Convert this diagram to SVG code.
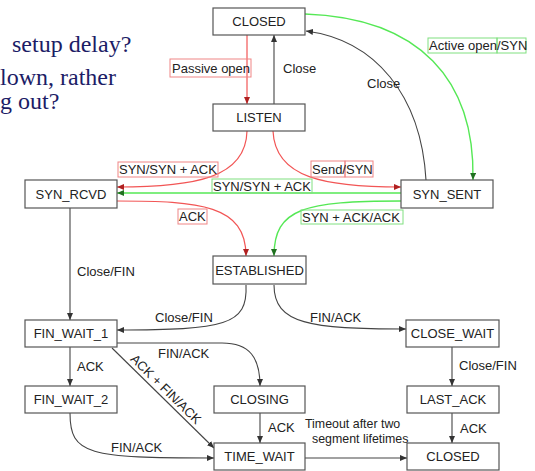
<svg xmlns="http://www.w3.org/2000/svg" width="535" height="471" viewBox="0 0 535 471">
<style>
.n rect{fill:#fff;stroke:#555;stroke-width:1.2}
.n text{font-family:"Liberation Sans",Arial,sans-serif;font-size:13px;fill:#222;text-anchor:middle}
.lbl{font-family:"Liberation Sans",Arial,sans-serif;font-size:13px;fill:#222}
.bg{font-family:"Liberation Serif","Times New Roman",serif;font-size:24px;fill:#1c1c66}
.k{fill:none;stroke:#444;stroke-width:1.1}
.r{fill:none;stroke:#f25555;stroke-width:1.2}
.g{fill:none;stroke:#55e855;stroke-width:1.4}
.rb{fill:none;stroke:#f08585;stroke-width:1}
.gb{fill:none;stroke:#80e080;stroke-width:1}
</style>
<defs>
<marker id="ak" markerUnits="userSpaceOnUse" markerWidth="7" markerHeight="6" refX="7" refY="3" orient="auto"><path d="M0,0 L7,3 L0,6 z" fill="#333"/></marker>
<marker id="ar" markerUnits="userSpaceOnUse" markerWidth="7" markerHeight="6" refX="7" refY="3" orient="auto"><path d="M0,0 L7,3 L0,6 z" fill="#b02020"/></marker>
<marker id="ag" markerUnits="userSpaceOnUse" markerWidth="7" markerHeight="6" refX="7" refY="3" orient="auto"><path d="M0,0 L7,3 L0,6 z" fill="#207020"/></marker>
</defs>
<rect width="535" height="471" fill="#fff"/>
<g id="background-text">
<text class="bg" x="12" y="52">setup delay?</text>
<text class="bg" x="0" y="85">lown, rather</text>
<text class="bg" x="0" y="109">g out?</text>
</g>
<g id="connectors">
<path class="r" d="M247 35 L247 104" marker-end="url(#ar)"/>
<rect class="rb" x="170" y="59" width="81" height="18"/>
<text class="lbl" x="172" y="72.5">Passive open</text>
<path class="k" d="M274 104 L274 35" marker-end="url(#ak)"/>
<text class="lbl" x="283" y="72.5">Close</text>
<path class="k" d="M426 180 C421 95 375 40 306 31" marker-end="url(#ak)"/>
<text class="lbl" x="367" y="87.5">Close</text>
<path class="g" d="M305 14 C420 18 475 80 473 180" marker-end="url(#ag)"/>
<rect class="gb" x="428" y="38" width="69" height="15"/>
<rect class="gb" x="497" y="38" width="29" height="15"/>
<text class="lbl" x="429" y="50">Active open/SYN</text>
<path class="r" d="M247 131 C246 178 195 187 117 187" marker-end="url(#ar)"/>
<rect class="rb" x="118" y="162" width="100" height="15"/>
<text class="lbl" x="119" y="174">SYN/SYN + ACK</text>
<path class="r" d="M273 131 C275 178 325 187 401 187" marker-end="url(#ar)"/>
<rect class="rb" x="311" y="161" width="34" height="16"/>
<rect class="rb" x="345" y="161" width="28" height="16"/>
<text class="lbl" x="312" y="173.5">Send/SYN</text>
<path class="g" d="M401 193 L117 193" marker-end="url(#ag)"/>
<rect class="gb" x="212" y="179" width="100" height="14"/>
<text class="lbl" x="213" y="190.5">SYN/SYN + ACK</text>
<path class="r" d="M117 201 C200 201 246 205 246 256" marker-end="url(#ar)"/>
<rect class="rb" x="178" y="209" width="29" height="15"/>
<text class="lbl" x="179" y="221">ACK</text>
<path class="g" d="M401 201 C305 201 274 208 274 256" marker-end="url(#ag)"/>
<rect class="gb" x="301" y="210" width="102" height="14"/>
<text class="lbl" x="302" y="221.5">SYN + ACK/ACK</text>
<path class="k" d="M70 208 L70 320" marker-end="url(#ak)"/>
<text class="lbl" x="77" y="275.5">Close/FIN</text>
<path class="k" d="M246 285 C248 325 225 330 117 330" marker-end="url(#ak)"/>
<text class="lbl" x="155" y="321.5">Close/FIN</text>
<path class="k" d="M274 285 C274 324 310 329 406 329" marker-end="url(#ak)"/>
<text class="lbl" x="310" y="321.5">FIN/ACK</text>
<path class="k" d="M117 343 L222 343 C250 343 260 358 260 386" marker-end="url(#ak)"/>
<text class="lbl" x="158" y="357.5">FIN/ACK</text>
<path class="k" d="M112 348 L214 448" marker-end="url(#ak)"/>
<text class="lbl" transform="translate(166 389) rotate(44.5)" x="0" y="4.6" text-anchor="middle">ACK + FIN/ACK</text>
<path class="k" d="M70 347 L70 386" marker-end="url(#ak)"/>
<text class="lbl" x="77" y="370.5">ACK</text>
<path class="k" d="M70 413 C70 455 88 458 214 458" marker-end="url(#ak)"/>
<text class="lbl" x="111" y="451.5">FIN/ACK</text>
<path class="k" d="M260 413 L260 443" marker-end="url(#ak)"/>
<text class="lbl" x="268" y="431.5">ACK</text>
<path class="k" d="M305 458 L407 458" marker-end="url(#ak)"/>
<text class="lbl" x="305" y="427.5" style="font-size:12.4px">Timeout after two</text>
<text class="lbl" x="312" y="442.5" style="font-size:12.4px">segment lifetimes</text>
<path class="k" d="M452 347 L452 386" marker-end="url(#ak)"/>
<text class="lbl" x="459" y="369.5">Close/FIN</text>
<path class="k" d="M452 413 L452 443" marker-end="url(#ak)"/>
<text class="lbl" x="460" y="432.5">ACK</text>
</g>
<g id="closed-top" class="n"><rect x="213" y="8" width="92" height="27"/><text x="259" y="26">CLOSED</text></g>
<g id="listen" class="n"><rect x="213" y="104" width="92" height="27"/><text x="259" y="122">LISTEN</text></g>
<g id="syn-rcvd" class="n"><rect x="25" y="180" width="92" height="28"/><text x="71" y="198.6">SYN_RCVD</text></g>
<g id="syn-sent" class="n"><rect x="401" y="180" width="92" height="28"/><text x="447" y="198.6">SYN_SENT</text></g>
<g id="established" class="n"><rect x="213" y="256" width="93" height="28"/><text x="259.5" y="274.6">ESTABLISHED</text></g>
<g id="fin-wait-1" class="n"><rect x="25" y="320" width="92" height="27"/><text x="71" y="338">FIN_WAIT_1</text></g>
<g id="close-wait" class="n"><rect x="406" y="320" width="93" height="27"/><text x="452.5" y="338">CLOSE_WAIT</text></g>
<g id="fin-wait-2" class="n"><rect x="25" y="386" width="92" height="27"/><text x="71" y="404">FIN_WAIT_2</text></g>
<g id="closing" class="n"><rect x="214" y="386" width="91" height="27"/><text x="259.5" y="404">CLOSING</text></g>
<g id="last-ack" class="n"><rect x="407" y="386" width="92" height="27"/><text x="453" y="404">LAST_ACK</text></g>
<g id="time-wait" class="n"><rect x="214" y="443" width="91" height="27"/><text x="259.5" y="461">TIME_WAIT</text></g>
<g id="closed-bottom" class="n"><rect x="407" y="443" width="92" height="27"/><text x="453" y="461">CLOSED</text></g>
</svg>
